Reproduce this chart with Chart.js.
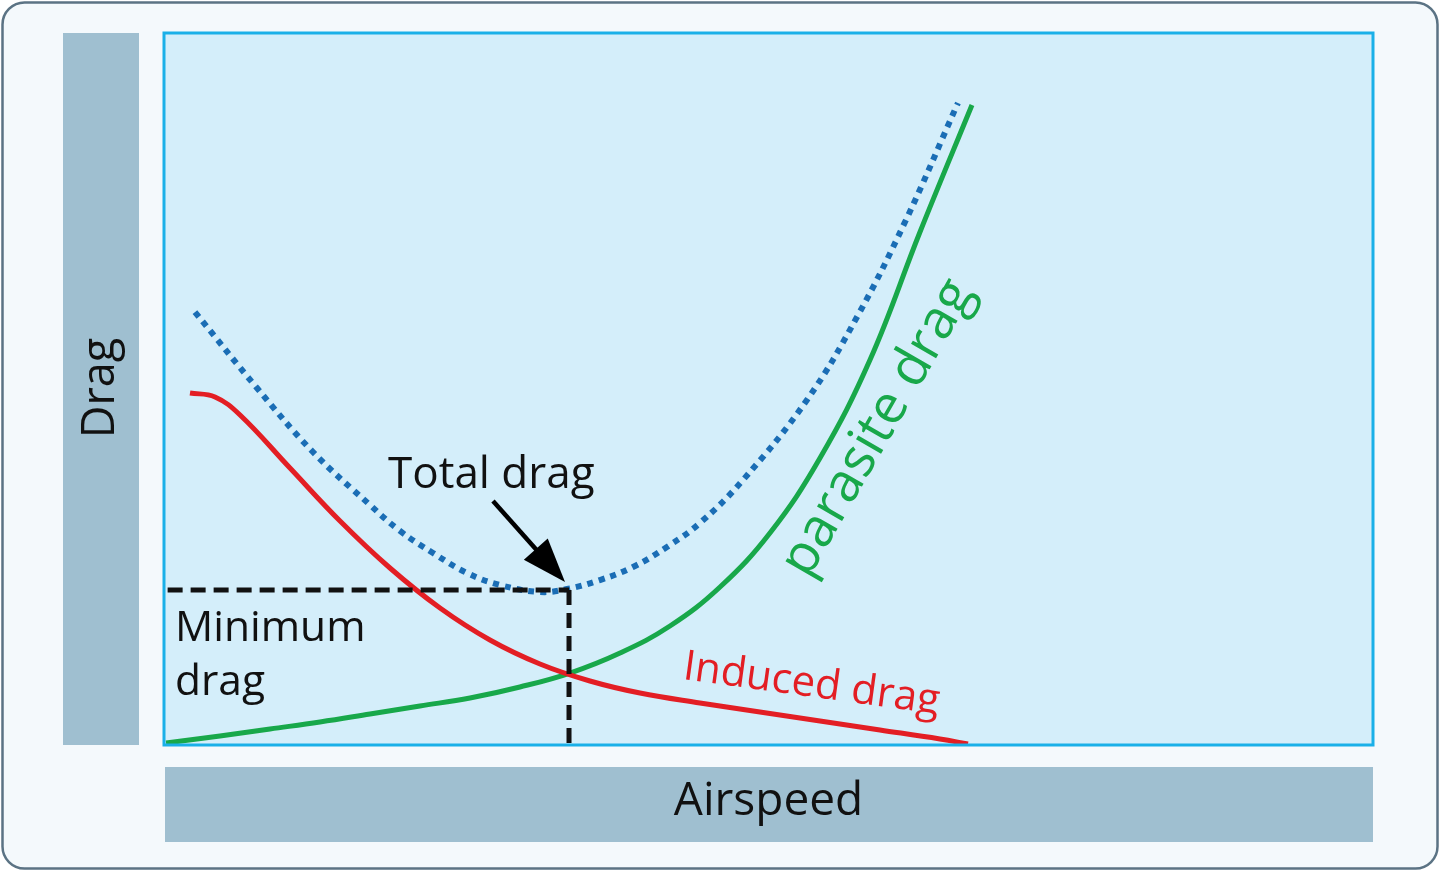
<!DOCTYPE html>
<html>
<head>
<meta charset="utf-8">
<script src="https://cdn.jsdelivr.net/npm/chart.js@4"></script>
<style>
  body { margin: 0; background: #ffffff; }
  canvas { display: block; }
</style>
</head>
<body>
<canvas id="chart" width="1440" height="871"></canvas>
<script>
// airspeed / drag in arbitrary units (0-100)
const inducedX = [2.15, 4.22, 6.29, 10.42, 14.56, 18.69, 22.83, 26.96, 31.10, 35.23, 39.37, 44.33, 49.29, 54.26, 59.22, 64.18, 66.50];
const inducedY = [49.44, 48.88, 46.35, 38.90, 31.46, 24.86, 19.24, 14.75, 11.38, 8.99, 7.30, 5.90, 4.63, 3.37, 2.11, 0.84, 0.14];

const parasiteX = [0.17, 4.63, 8.77, 12.90, 17.04, 21.17, 25.31, 29.44, 33.58, 37.72, 41.85, 45.99, 50.12, 54.26, 58.39, 62.53, 66.83];
const parasiteY = [0.28, 1.26, 2.25, 3.23, 4.35, 5.48, 6.60, 8.15, 10.11, 12.92, 16.71, 22.19, 29.78, 40.31, 54.07, 72.05, 89.89];

const totalX = [2.56, 7.69, 12.32, 17.04, 19.52, 22.25, 25.06, 27.79, 31.10, 33.33, 36.06, 38.79, 41.60, 44.33, 47.89, 53.18, 57.32, 61.29, 65.67];
const totalY = [60.81, 50.14, 41.15, 33.71, 30.06, 26.97, 24.16, 22.47, 21.49, 21.91, 23.17, 25.00, 27.81, 31.18, 37.22, 48.46, 60.11, 73.45, 90.17];

const minDragX = 33.5;
const minDragY = 21.77;

function pts(xs, ys) {
    return xs.map((x, i) => ({ x: x, y: ys[i] }));
}

const FONT = '"Open Sans", "Noto Sans", sans-serif';

function roundRect(c, x, y, w, h, r) {
    c.beginPath();
    c.moveTo(x + r, y);
    c.lineTo(x + w - r, y);
    c.arcTo(x + w, y, x + w, y + r, r);
    c.lineTo(x + w, y + h - r);
    c.arcTo(x + w, y + h, x + w - r, y + h, r);
    c.lineTo(x + r, y + h);
    c.arcTo(x, y + h, x, y + h - r, r);
    c.lineTo(x, y + r);
    c.arcTo(x, y, x + r, y, r);
    c.closePath();
}

const framePlugin = {
    id: 'frame',
    beforeDraw(chart) {
        const c = chart.ctx;
        const a = chart.chartArea;
        c.save();
        c.fillStyle = '#ffffff';
        c.fillRect(0, 0, chart.width, chart.height);
        roundRect(c, 2.5, 2.5, chart.width - 5, chart.height - 5, 22);
        c.fillStyle = '#f4f9fc';
        c.fill();
        c.lineWidth = 2.5;
        c.strokeStyle = '#5b7384';
        c.stroke();
        // axis label boxes
        c.fillStyle = '#9fbfd0';
        c.fillRect(63, a.top, 76, a.bottom - a.top);
        c.fillRect(a.left + 1, 767, a.right - a.left - 1, 75);
        // plot area
        c.fillStyle = '#d4eefa';
        c.fillRect(a.left, a.top, a.right - a.left, a.bottom - a.top);
        c.restore();
    },
    afterDatasetsDraw(chart) {
        const c = chart.ctx;
        const a = chart.chartArea;
        const xs = chart.scales.x, ys = chart.scales.y;
        c.save();
        c.lineWidth = 3;
        c.strokeStyle = '#1ab0e8';
        c.strokeRect(a.left, a.top, a.right - a.left, a.bottom - a.top);

        // axis titles
        c.fillStyle = '#111111';
        c.font = '46px ' + FONT;
        c.textAlign = 'center';
        c.textBaseline = 'middle';
        c.fillText('Airspeed', (a.left + a.right) / 2, 802);
        c.save();
        c.translate(101, 388);
        c.rotate(-Math.PI / 2);
        c.font = '45px ' + FONT;
        c.fillText('Drag', 0, 0);
        c.restore();

        // annotations
        c.textAlign = 'left';
        c.textBaseline = 'alphabetic';
        c.fillStyle = '#111111';
        c.font = '44px ' + FONT;
        c.fillText('Total drag', 388, 488);
        c.font = '42.5px ' + FONT;
        c.fillText('Minimum', 175, 641);
        c.fillText('drag', 175, 695);

        // arrow to the minimum of total drag
        const tipX = xs.getPixelForValue(minDragX) - 4;
        const tipY = ys.getPixelForValue(minDragY) - 8;
        const sx = 493, sy = 501;
        const ang = Math.atan2(tipY - sy, tipX - sx);
        c.strokeStyle = '#000000';
        c.lineWidth = 4.5;
        c.beginPath();
        c.moveTo(sx, sy);
        c.lineTo(tipX - 30 * Math.cos(ang), tipY - 30 * Math.sin(ang));
        c.stroke();
        c.beginPath();
        c.moveTo(tipX, tipY);
        c.lineTo(tipX - 44 * Math.cos(ang) + 16 * Math.sin(ang), tipY - 44 * Math.sin(ang) - 16 * Math.cos(ang));
        c.lineTo(tipX - 44 * Math.cos(ang) - 16 * Math.sin(ang), tipY - 44 * Math.sin(ang) + 16 * Math.cos(ang));
        c.closePath();
        c.fillStyle = '#000000';
        c.fill();

        c.save();
        c.fillStyle = '#e31e24';
        c.font = '42px ' + FONT;
        c.translate(682, 679);
        c.rotate(7.8 * Math.PI / 180);
        c.fillText('Induced drag', 0, 0);
        c.restore();

        c.save();
        c.fillStyle = '#18a84a';
        c.font = '54px ' + FONT;
        c.textAlign = 'center';
        c.textBaseline = 'middle';
        c.translate(878, 428);
        c.rotate(-60 * Math.PI / 180);
        c.fillText('parasite drag', 0, 0);
        c.restore();

        c.restore();
    }
};

const ctx = document.getElementById('chart').getContext('2d');
const chart = new Chart(ctx, {
    type: 'line',
    data: {
        datasets: [
            {
                label: 'Minimum drag (level)',
                data: pts([0.3, minDragX], [minDragY, minDragY]),
                borderColor: '#111111',
                borderWidth: 5,
                borderDash: [15, 8],
                borderCapStyle: 'butt',
                pointRadius: 0
            },
            {
                label: 'Minimum drag (airspeed)',
                data: pts([minDragX, minDragX], [minDragY, 0]),
                borderColor: '#111111',
                borderWidth: 5,
                borderDash: [15, 8],
                borderCapStyle: 'butt',
                pointRadius: 0
            },
            {
                label: 'Total drag',
                data: pts(totalX, totalY),
                borderColor: '#1a6db5',
                borderWidth: 6,
                borderDash: [6, 6],
                borderCapStyle: 'butt',
                tension: 0.4,
                pointRadius: 0
            },
            {
                label: 'Induced drag',
                data: pts(inducedX, inducedY),
                borderColor: '#e31e24',
                borderWidth: 5,
                tension: 0.4,
                pointRadius: 0
            },
            {
                label: 'Parasite drag',
                data: pts(parasiteX, parasiteY),
                borderColor: '#18a84a',
                borderWidth: 5,
                tension: 0.4,
                pointRadius: 0
            }
        ]
    },
    options: {
        responsive: false,
        animation: false,
        layout: {
            padding: { left: 164, top: 33, right: 67, bottom: 126 }
        },
        plugins: {
            legend: { display: false },
            tooltip: { enabled: false }
        },
        scales: {
            x: { type: 'linear', min: 0, max: 100, display: false },
            y: { type: 'linear', min: 0, max: 100, display: false }
        }
    },
    plugins: [framePlugin]
});
</script>
</body>
</html>
